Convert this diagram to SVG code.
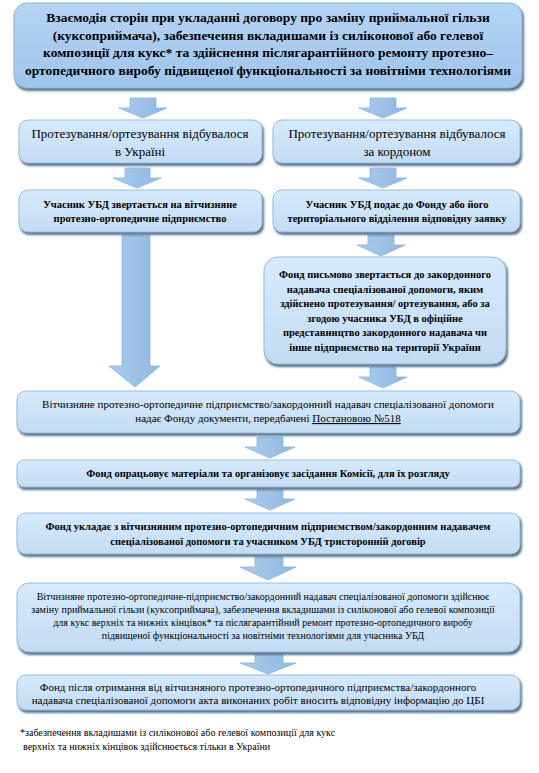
<svg xmlns="http://www.w3.org/2000/svg" width="539" height="773" viewBox="0 0 539 773">
<defs>
<linearGradient id="gBox" x1="0" y1="0" x2="0" y2="1">
<stop offset="0" stop-color="#d6eafc"/>
<stop offset="1" stop-color="#c2dcf4"/>
</linearGradient>
<linearGradient id="gTop" x1="0" y1="0" x2="0" y2="1">
<stop offset="0" stop-color="#b4d4f2"/>
<stop offset="1" stop-color="#9fc5eb"/>
</linearGradient>
<linearGradient id="gArr" x1="0" y1="0" x2="1" y2="0">
<stop offset="0" stop-color="#a9cbeb"/>
<stop offset="0.5" stop-color="#9cc2e6"/>
<stop offset="1" stop-color="#8fb8df"/>
</linearGradient>
<filter id="sh" x="-5%" y="-20%" width="110%" height="140%">
<feGaussianBlur stdDeviation="1"/>
</filter>
</defs>
<style>
.sh{fill:#57758f;filter:url(#sh)}
.box{fill:url(#gBox);stroke:#9bbcdc;stroke-width:1}
.top{fill:url(#gTop);stroke:#8fb4da;stroke-width:1}
.arr{fill:url(#gArr);stroke:#8db4da;stroke-width:0.8}
text{font-family:"Times New Roman","Liberation Serif","DejaVu Serif",serif;fill:#000;text-anchor:middle}
.t13b{font-size:13.5px;font-weight:bold}
.t13{font-size:13px}
.t10b{font-size:10.5px;font-weight:bold}
.t11{font-size:11px}
.t10{font-size:10px}
.fn{font-size:10px;text-anchor:start}
</style>

<g id="connectors">
<path class="arr" d="M130,98 H156 V108 H167 L143,118 L119,108 H130 Z"/>
<path class="arr" d="M370,98 H396 V108 H407 L383,118 L359,108 H370 Z"/>
<path class="arr" d="M125,168 H150 V178 H161 L137,188 L113,178 H125 Z"/>
<path class="arr" d="M370,168 H396 V178 H407 L383,188 L359,178 H370 Z"/>
<path class="arr" d="M122,235 H150 V366 H160 L135,387 L109,366 H122 Z"/>
<path class="arr" d="M368,235 H394 V245 H405 L381,256 L357,245 H368 Z"/>
<path class="arr" d="M370,367 H396 V377 H407 L383,388 L359,377 H370 Z"/>
<path class="arr" d="M257,437 H283 V447 H295 L270,458 L245,447 H257 Z"/>
<path class="arr" d="M257,490 H283 V499 H295 L270,510 L245,499 H257 Z"/>
<path class="arr" d="M255,557 H283 V567 H296 L268,580 L240,567 H255 Z"/>
<path class="arr" d="M255,653 H283 V663 H296 L268,674 L240,663 H255 Z"/>
</g>

<g id="n-top">
<rect class="sh" x="15" y="5" width="509" height="86" rx="13"/>
<rect class="top" x="14" y="3" width="508" height="85" rx="13"/>
<text class="t13b" x="268" y="22">Взаємодія сторін при укладанні договору про заміну приймальної гільзи</text>
<text class="t13b" x="268" y="40">(куксоприймача), забезпечення вкладишами із силіконової або гелевої</text>
<text class="t13b" x="268" y="57">композиції для кукс* та здійснення післягарантійного ремонту протезно–</text>
<text class="t13b" x="268" y="75">ортопедичного виробу підвищеної функціональності за новітніми технологіями</text>
</g>

<g id="n-ua">
<rect class="sh" x="20" y="122" width="244" height="44" rx="9"/>
<rect class="box" x="19" y="120" width="243" height="43" rx="9"/>
<text class="t13" x="140" y="138">Протезування/ортезування відбувалося</text>
<text class="t13" x="140" y="156">в Україні</text>
</g>

<g id="n-abroad">
<rect class="sh" x="274" y="122" width="248" height="44" rx="9"/>
<rect class="box" x="273" y="120" width="247" height="43" rx="9"/>
<text class="t13" x="397" y="138">Протезування/ортезування відбувалося</text>
<text class="t13" x="397" y="156">за кордоном</text>
</g>

<g id="n-ua2">
<rect class="sh" x="20" y="192" width="244" height="43" rx="9"/>
<rect class="box" x="19" y="190" width="243" height="42" rx="9"/>
<text class="t10b" x="140" y="208">Учасник УБД звертається на вітчизняне</text>
<text class="t10b" x="140" y="222">протезно-ортопедичне підприємство</text>
</g>

<g id="n-abroad2">
<rect class="sh" x="274" y="192" width="248" height="43" rx="9"/>
<rect class="box" x="273" y="190" width="247" height="42" rx="9"/>
<text class="t10b" x="397" y="208">Учасник УБД подає до Фонду або його</text>
<text class="t10b" x="397" y="222">територіального відділення відповідну заявку</text>
</g>

<g id="n-fund-letter">
<rect class="sh" x="265" y="259" width="243" height="108" rx="14"/>
<rect class="box" x="264" y="257" width="242" height="107" rx="14"/>
<text class="t10b" x="385" y="278">Фонд письмово звертається до закордонного</text>
<text class="t10b" x="385" y="292.5">надавача спеціалізованої допомоги, яким</text>
<text class="t10b" x="385" y="307">здійснено протезування/ ортезування, або за</text>
<text class="t10b" x="385" y="321.5">згодою учасника УБД в офіційне</text>
<text class="t10b" x="385" y="336">представництво закордонного надавача чи</text>
<text class="t10b" x="385" y="350.5">інше підприємство на території України</text>
</g>

<g id="n-docs">
<rect class="sh" x="18" y="393" width="504" height="43" rx="9"/>
<rect class="box" x="17" y="391" width="503" height="42" rx="9"/>
<text class="t11" x="268" y="408">Вітчизняне протезно-ортопедичне підприємство/закордонний надавач спеціалізованої допомоги</text>
<text class="t11" x="268" y="422">надає Фонду документи, передбачені <tspan text-decoration="underline">Постановою №518</tspan></text>
</g>

<g id="n-commission">
<rect class="sh" x="18" y="462" width="504" height="28" rx="7"/>
<rect class="box" x="17" y="460" width="503" height="27" rx="7"/>
<text class="t10b" x="268" y="477">Фонд опрацьовує матеріали та організовує засідання Комісії, для їх розгляду</text>
</g>

<g id="n-contract">
<rect class="sh" x="18" y="515" width="504" height="42" rx="9"/>
<rect class="box" x="17" y="513" width="503" height="41" rx="9"/>
<text class="t10b" x="268" y="530">Фонд укладає з вітчизняним протезно-ортопедичним підприємством/закордонним надавачем</text>
<text class="t10b" x="268" y="545">спеціалізованої допомоги та учасником УБД тристоронній договір</text>
</g>

<g id="n-service">
<rect class="sh" x="18" y="585" width="504" height="70" rx="12"/>
<rect class="box" x="17" y="583" width="503" height="69" rx="12"/>
<text class="t10" x="263" y="600">Вітчизняне протезно-ортопедичне-підприємство/закордонний надавач спеціалізованої допомоги здійснює</text>
<text class="t10" x="263" y="613">заміну приймальної гільзи (куксоприймача), забезпечення вкладишами із силіконової або гелевої композиції</text>
<text class="t10" x="263" y="626">для кукс верхніх та нижніх кінцівок* та післягарантійний ремонт протезно-ортопедичного виробу</text>
<text class="t10" x="263" y="639">підвищеної функціональності за новітніми технологіями для учасника УБД</text>
</g>

<g id="n-cbi">
<rect class="sh" x="18" y="677" width="504" height="36" rx="9"/>
<rect class="box" x="17" y="675" width="503" height="35" rx="9"/>
<text class="t11" x="258" y="691">Фонд після отримання від вітчизняного протезно-ортопедичного підприємства/закордонного</text>
<text class="t11" x="258" y="704">надавача спеціалізованої допомоги акта виконаних робіт вносить відповідну інформацію до ЦБІ</text>
</g>

<g id="footnote">
<text class="fn" x="20" y="736">*забезпечення вкладишами із силіконової або гелевої композиції для кукс</text>
<text class="fn" x="23" y="750">верхніх та нижніх кінцівок здійснюється тільки в України</text>
</g>
</svg>
